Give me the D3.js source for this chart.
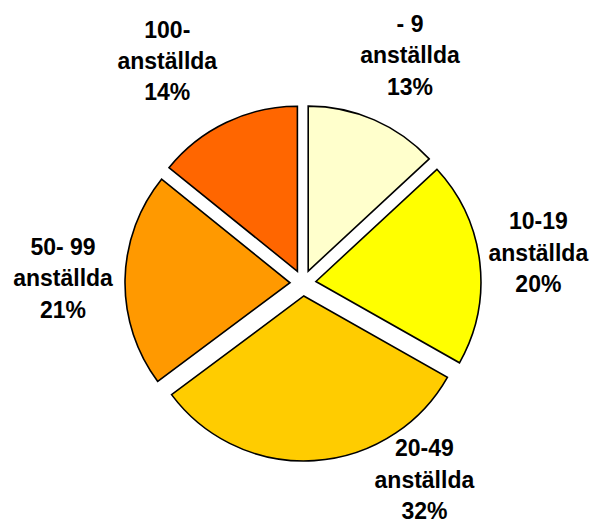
<!DOCTYPE html>
<html>
<head>
<meta charset="utf-8">
<script src="https://cdn.jsdelivr.net/npm/d3@7"></script>
<style>
  body { margin: 0; background: #fff; }
  text { font-family: "Liberation Sans", Arial, sans-serif; font-weight: bold; fill: #000; }
</style>
</head>
<body>
<div id="chart"></div>
<script>
// slice data, clockwise from 12 o'clock
let categories = ["- 9", "10-19", "20-49", "50- 99", "100-"];
let shares = [13.1, 20.1, 31.6, 21.0, 14.2];
let colors = ["#FFFFCC", "#FFFF00", "#FFCC00", "#FF9900", "#FF6600"];
let unit = "anställda";

let width = 595, height = 523;
let radius = 165, explode = 13;
let cx = 303, cy = 283;

// label nudges away from the bisector (Excel moved some of them)
let labelNudge = [[9, 5], [-8, 6], [106, -40], [5, 8], [-30, 7]];

let svg = d3.select("#chart")
    .append("svg")
    .attr("width", width)
    .attr("height", height)
    .append("g")
    .attr("transform", `translate(${cx}, ${cy})`);

let total = d3.sum(shares);
let rows = categories.map(function(c, i) { return {name: c, value: shares[i], color: colors[i]}; });

let pie = d3.pie().sort(null).value(function(d) { return d.value; });
let arc = d3.arc().innerRadius(0).outerRadius(radius);
let labelArc = d3.arc().innerRadius(245).outerRadius(245);

let arcs = pie(rows);

function bisector(d) { return (d.startAngle + d.endAngle) / 2; }

svg.selectAll("path")
    .data(arcs)
    .enter()
    .append("path")
    .attr("d", arc)
    .attr("transform", function(d) {
        let a = bisector(d);
        return `translate(${explode * Math.sin(a)}, ${-explode * Math.cos(a)})`;
    })
    .attr("fill", function(d) { return d.data.color; })
    .attr("stroke", "#000")
    .attr("stroke-width", 1.6)
    .attr("stroke-linejoin", "miter");

let fmt = d3.format(".0%");

let labels = svg.selectAll(".label")
    .data(arcs)
    .enter()
    .append("text")
    .attr("class", "label")
    .attr("text-anchor", "middle")
    .style("font-size", "23px")
    .attr("transform", function(d, i) {
        let c = labelArc.centroid(d);
        return `translate(${c[0] + labelNudge[i][0]}, ${c[1] + labelNudge[i][1]}) scale(1, 1.06)`;
    });

labels.each(function(d) {
    let t = d3.select(this);
    let lines = [d.data.name, unit, fmt(d.data.value / total)];
    lines.forEach(function(l, j) {
        t.append("tspan")
            .attr("x", 0)
            .attr("y", (j - 1) * 29.5)
            .text(l);
    });
});
</script>
</body>
</html>
